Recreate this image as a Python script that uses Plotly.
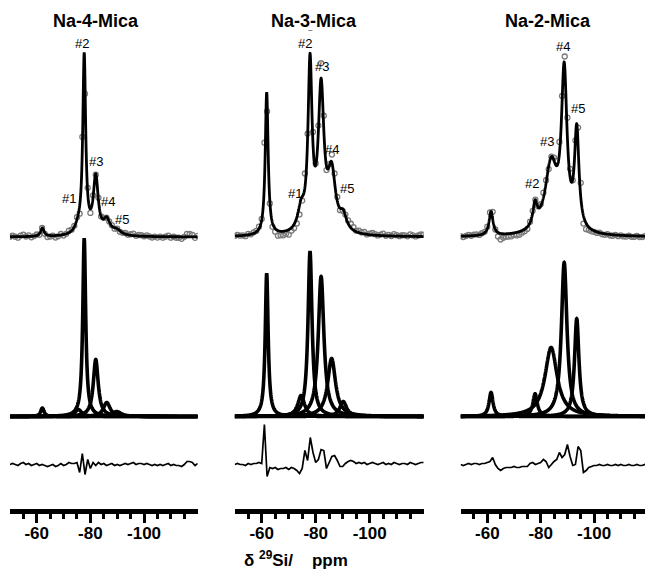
import numpy as np
import plotly.graph_objects as go

# ---------------------------------------------------------------
# 29Si MAS NMR of Na-n-Mica: measured spectrum with fit, the
# Lorentzian components of the fit, and the fit residual.
# ---------------------------------------------------------------

panel_titles = ["Na-4-Mica", "Na-3-Mica", "Na-2-Mica"]

# chemical shifts of the measured points (ppm)
ppm_pts = list(range(-50, -121, -1))

# Lorentzian components: centre (ppm), height (a.u.), FWHM (ppm)
na4_centres = [-62.1, -75.5, -77.7, -82.0, -86.1, -89.8]
na4_heights = [8.5, 7, 178, 57, 14, 5]
na4_fwhm = [1.5, 3.0, 1.3, 2.2, 3.0, 4.0]

na3_centres = [-61.85, -74.6, -77.9, -82.0, -85.9, -90.2]
na3_heights = [143, 21, 165, 140, 58, 15]
na3_fwhm = [1.3, 3.0, 1.8, 2.5, 3.5, 3.0]

na2_centres = [-61.4, -77.9, -83.9, -88.8, -93.5]
na2_heights = [24, 22.7, 69, 154, 97.7]
na2_fwhm = [1.8, 2.0, 5.5, 2.5, 2.0]

# residual (measured - fit) at ppm_pts, same units as the heights
na4_resid = [0, 1, 0, -1, 1, 2, 0, 1, -1, 0,
             1, -1, 0, -1, -2, -1, 0, -2, -1, 1,
             -1, 0, 2, 1, 1, 2, -8, 11, -10, 5,
             -4, 2, -1, 2, 0, 1, -1, 0, 1, -1,
             0, -1, 0, 1, 0, 1, 2, 0, 1, 1,
             0, 1, 0, -1, 0, -1, 0, -1, 0, 1,
             -1, 0, -1, -1, -2, 0, 3, 3, 2, -1, 1]
na3_resid = [0, 1, 0, 0, -1, 1, 0, 1, 1, 2,
             1, 40, -12, -3, -4, -3, -5, -4, -4, -3,
             -5, -3, -4, -6, -9, -4, 14, 4, 27, 12,
             2, 5, 15, 14, -4, 2, 8, 9, 4, -2,
             -2, 1, 3, 4, 3, 1, 2, 1, 2, 0,
             1, 2, 1, 0, 1, 2, 0, 1, 0, 2,
             1, 0, 1, 1, 0, 2, 1, 0, 1, 2, 2]
na2_resid = [0, -1, 0, 1, 0, 1, 1, 0, 1, 1,
             2, 3, 7, 0, -4, -6, -4, -3, -3, -3,
             -2, -3, -3, -2, -2, -2, 1, 2, 0, 1,
             2, 5, 3, -3, 0, 3, 5, 12, 7, 10,
             20, 8, -1, 0, 18, 14, -8, -6, -3, -2,
             -1, -1, 0, -1, -1, 0, -1, -1, 0, -1,
             0, -1, -1, 0, -1, -1, 0, -1, -1, 0, -1]

peak_labels = [
    ["#1", "#2", "#3", "#4", "#5"],
    ["#1", "#2", "#3", "#4", "#5"],
    ["#2", "#3", "#4", "#5"],
]

# ---------------------------------------------------------------
W, H = 645, 569
FONT = "Liberation Sans, Arial, sans-serif"

# horizontal placement of each panel: pixel of -50 ppm and px per ppm
panel_geom = [(9.9, 2.683), (234.7, 2.70), (460.6, 2.67)]
# vertical placement of each row: (top px, bottom px, baseline px)
row_geom = [(30, 245, 237), (225, 421, 416.5), (415, 509, 464.5)]
# label anchor positions (ppm, height) in the top row
label_pos = [
    [(-72.2, 38.7), (-76.8, 193.7), (-82.1, 75.3), (-86.7, 35.3), (-91.7, 17.7)],
    [(-72.3, 43.7), (-76.0, 193.7), (-82.4, 170.3), (-86.1, 87), (-91.5, 48.7)],
    [(-76.6, 53.7), (-82.5, 95.3), (-88.2, 190.3), (-94.1, 128.7)],
]
title_px = [96, 314, 548]
minor_ticks = [-55, -65, -70, -75, -85, -90, -95, -105, -110, -115]

components = [
    (na4_centres, na4_heights, na4_fwhm, na4_resid),
    (na3_centres, na3_heights, na3_fwhm, na3_resid),
    (na2_centres, na2_heights, na2_fwhm, na2_resid),
]


def lorentz(x, c, h, w):
    return h / (1.0 + (2.0 * (x - c) / w) ** 2)


x_fine = np.linspace(-50, -120, 2801)
x_pts = np.array(ppm_pts, dtype=float)

fig = go.Figure()
layout = dict(
    width=W, height=H, autosize=False,
    margin=dict(l=0, r=0, t=0, b=0),
    paper_bgcolor="white", plot_bgcolor="rgba(0,0,0,0)",
    showlegend=False,
)
annotations = []

for p, (centres, heights, fwhm, resid) in enumerate(components):
    xname = "x" if p == 0 else f"x{p + 1}"
    yidx = [p * 3 + r + 1 for r in range(3)]
    ynames = ["y" if i == 1 else f"y{i}" for i in yidx]

    # --- top row: measured points and total fit
    fit_fine = np.zeros_like(x_fine)
    fit_pts = np.zeros_like(x_pts)
    for c, h, w in zip(centres, heights, fwhm):
        fit_fine += lorentz(x_fine, c, h, w)
        fit_pts += lorentz(x_pts, c, h, w)
    measured = fit_pts + np.array(resid, dtype=float)

    fig.add_trace(go.Scatter(
        x=x_pts, y=measured, mode="markers", xaxis=xname, yaxis=ynames[0],
        marker=dict(symbol="circle-open", size=5, color="#7a7a7a",
                    line=dict(width=1.3, color="#7a7a7a")),
        hoverinfo="skip"))
    fig.add_trace(go.Scatter(
        x=x_fine, y=fit_fine, mode="lines", xaxis=xname, yaxis=ynames[0],
        line=dict(color="black", width=2.8, simplify=False),
        hoverinfo="skip"))

    # --- middle row: individual components
    for c, h, w in zip(centres, heights, fwhm):
        fig.add_trace(go.Scatter(
            x=x_fine, y=lorentz(x_fine, c, h, w), mode="lines",
            xaxis=xname, yaxis=ynames[1],
            line=dict(color="black", width=3.6, simplify=False),
            hoverinfo="skip"))

    # --- bottom row: residual
    fig.add_trace(go.Scatter(
        x=x_pts, y=resid, mode="lines", xaxis=xname, yaxis=ynames[2],
        line=dict(color="black", width=1.7, simplify=False),
        hoverinfo="skip"))

    # --- axes
    left, scale = panel_geom[p]
    right = min(left + 70 * scale, W)
    x_end = -50 - (right - left) / scale
    layout["xaxis" if p == 0 else f"xaxis{p + 1}"] = dict(
        domain=[left / W, right / W], range=[-50, x_end],
        anchor=ynames[2], side="bottom",
        showline=True, linewidth=4.5, linecolor="black",
        ticks="outside", tickvals=[-60, -80, -100],
        ticktext=["-60", "-80", "-100"],
        ticklen=9, tickwidth=3, tickcolor="black",
        ticklabelstandoff=-4,
        tickfont=dict(family=FONT, size=17, color="black", weight="bold"),
        showgrid=False, zeroline=False,
        minor=dict(tickvals=minor_ticks, ticks="outside", ticklen=5,
                   tickwidth=3, tickcolor="black", showgrid=False),
    )
    for r, i in enumerate(yidx):
        top, bottom, base = row_geom[r]
        layout["yaxis" if i == 1 else f"yaxis{i}"] = dict(
            domain=[1 - bottom / H, 1 - top / H],
            range=[base - bottom, base - top],
            anchor=xname, visible=False, fixedrange=True,
        )

    # --- texts
    annotations.append(dict(
        text=f"<b>{panel_titles[p]}</b>", xref="paper", yref="paper",
        x=title_px[p] / W, y=1 - 21 / H, xanchor="center", yanchor="middle",
        showarrow=False, font=dict(family=FONT, size=18, color="black")))
    for lab, (lx, ly) in zip(peak_labels[p], label_pos[p]):
        annotations.append(dict(
            text=lab, xref=xname, yref=ynames[0], x=lx, y=ly,
            xanchor="center", yanchor="middle", showarrow=False,
            font=dict(family=FONT, size=13, color="black")))

annotations.append(dict(
    text="<b>\u03b4 <sup>29</sup>Si/\u00a0\u00a0\u00a0\u00a0ppm</b>",
    xref="paper", yref="paper", x=296 / W, y=1 - 559 / H,
    xanchor="center", yanchor="middle", showarrow=False,
    font=dict(family=FONT, size=17, color="black")))

layout["annotations"] = annotations
fig.update_layout(**layout)
fig.write_html("out.html")
